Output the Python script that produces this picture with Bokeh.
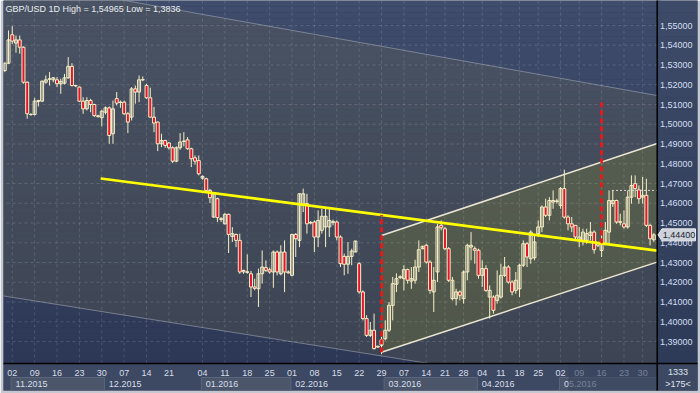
import numpy as np
from bokeh.plotting import figure
from bokeh.models import Range1d
from bokeh.core.properties import value
from bokeh.embed import file_html
from bokeh.resources import INLINE

# ---------------- data ----------------
TITLE = "GBP/USD 1D High = 1,54965 Low = 1,3836"
TOTAL_BARS = "1333"

open_ = [1.5272, 1.5309, 1.5453, 1.5411, 1.5427, 1.5390, 1.5213, 1.5050, 1.5050, 1.5115,
         1.5117, 1.5213, 1.5228, 1.5225, 1.5225, 1.5205, 1.5208, 1.5235, 1.5293, 1.5196,
         1.5188, 1.5117, 1.5078, 1.5120, 1.5100, 1.5043, 1.5033, 1.5061, 1.5083, 1.4952,
         1.5130, 1.5112, 1.5112, 1.5053, 1.5036, 1.5179, 1.5163, 1.5226, 1.5196, 1.5134,
         1.5036, 1.5011, 1.4901, 1.4918, 1.4905, 1.4881, 1.4813, 1.4881, 1.4913, 1.4921,
         1.4876, 1.4830, 1.4816, 1.4727, 1.4724, 1.4665, 1.4530, 1.4623, 1.4522, 1.4496,
         1.4544, 1.4432, 1.4442, 1.4412, 1.4260, 1.4253, 1.4243, 1.4176, 1.4167, 1.4243,
         1.4274, 1.4263, 1.4252, 1.4353, 1.4243, 1.4353, 1.4252, 1.4235, 1.4442, 1.4412,
         1.4589, 1.4598, 1.4503, 1.4505, 1.4429, 1.4463, 1.4480, 1.4480, 1.4503, 1.4505,
         1.4429, 1.4331, 1.4291, 1.4331, 1.4353, 1.4294, 1.4151, 1.4016, 1.3931, 1.3957,
         1.3876, 1.3881, 1.3914, 1.3957, 1.4083, 1.4190, 1.4223, 1.4218, 1.4264, 1.4206,
         1.4210, 1.4277, 1.4370, 1.4387, 1.4302, 1.4151, 1.4252, 1.4488, 1.4471, 1.4370,
         1.4117, 1.4117, 1.4151, 1.4117, 1.4252, 1.4378, 1.4370, 1.4362, 1.4235, 1.4269,
         1.4125, 1.4125, 1.4108, 1.4125, 1.4235, 1.4277, 1.4201, 1.4159, 1.4167, 1.4286,
         1.4395, 1.4319, 1.4324, 1.4446, 1.4480, 1.4581, 1.4539, 1.4606, 1.4609, 1.4589,
         1.4674, 1.4530, 1.4496, 1.4488, 1.4412, 1.4412, 1.4412, 1.4437, 1.4454, 1.4395,
         1.4361, 1.4395, 1.4454, 1.4598, 1.4614, 1.4507, 1.4496, 1.4480, 1.4631, 1.4699,
         1.4668, 1.4631, 1.4640, 1.4488, 1.4415]

high = [1.5314, 1.5475, 1.54965, 1.5449, 1.5449, 1.5394, 1.5216, 1.5056, 1.5134, 1.5124,
        1.5222, 1.5247, 1.5264, 1.5239, 1.5239, 1.5230, 1.5255, 1.5340, 1.5309, 1.5200,
        1.5191, 1.5137, 1.5137, 1.5129, 1.5104, 1.5048, 1.5073, 1.5090, 1.5090, 1.5120,
        1.5163, 1.5120, 1.5120, 1.5061, 1.5188, 1.5196, 1.5247, 1.5242, 1.5205, 1.5185,
        1.5087, 1.5014, 1.4952, 1.4921, 1.4910, 1.4888, 1.4888, 1.4955, 1.4960, 1.4935,
        1.4881, 1.4842, 1.4842, 1.4741, 1.4729, 1.4673, 1.4651, 1.4628, 1.4530, 1.4550,
        1.4547, 1.4479, 1.4446, 1.4446, 1.4263, 1.4341, 1.4257, 1.4218, 1.4269, 1.4361,
        1.4311, 1.4274, 1.4361, 1.4361, 1.4387, 1.4412, 1.4260, 1.4446, 1.4449, 1.4651,
        1.4674, 1.4648, 1.4510, 1.4513, 1.4564, 1.4572, 1.4572, 1.4572, 1.4517, 1.4513,
        1.4437, 1.4345, 1.4404, 1.4370, 1.4409, 1.4302, 1.4159, 1.4033, 1.3999, 1.4041,
        1.3879, 1.3923, 1.4007, 1.4100, 1.4227, 1.4245, 1.4235, 1.4286, 1.4269, 1.4277,
        1.4314, 1.4412, 1.4385, 1.4395, 1.4311, 1.4277, 1.4496, 1.4513, 1.4480, 1.4378,
        1.4227, 1.4167, 1.4159, 1.4260, 1.4395, 1.4454, 1.4382, 1.4370, 1.4311, 1.4286,
        1.4184, 1.4134, 1.4260, 1.4294, 1.4328, 1.4286, 1.4210, 1.4252, 1.4294, 1.4412,
        1.4404, 1.4463, 1.4437, 1.4513, 1.4589, 1.4623, 1.4631, 1.4665, 1.4623, 1.4682,
        1.4770, 1.4539, 1.4530, 1.4488, 1.4480, 1.4471, 1.4471, 1.4505, 1.4463, 1.4404,
        1.4437, 1.4505, 1.4665, 1.4665, 1.4618, 1.4547, 1.4564, 1.4665, 1.4741, 1.4741,
        1.4690, 1.4733, 1.4724, 1.4496, 1.4449]

low = [1.5264, 1.5306, 1.5407, 1.5362, 1.5357, 1.5205, 1.5028, 1.5043, 1.5044, 1.5090,
       1.5112, 1.5205, 1.5196, 1.5213, 1.5188, 1.5154, 1.5201, 1.5230, 1.5191, 1.5188,
       1.5112, 1.5053, 1.5070, 1.5061, 1.5036, 1.5033, 1.4989, 1.5050, 1.4901, 1.4901,
       1.5095, 1.5083, 1.5048, 1.4955, 1.5019, 1.5104, 1.5112, 1.5218, 1.5129, 1.5033,
       1.4960, 1.4864, 1.4884, 1.4881, 1.4871, 1.4803, 1.4808, 1.4871, 1.4888, 1.4871,
       1.4783, 1.4796, 1.4741, 1.4719, 1.4657, 1.4601, 1.4527, 1.4505, 1.4505, 1.4493,
       1.4348, 1.4404, 1.4378, 1.4243, 1.4243, 1.4243, 1.4125, 1.4159, 1.4075, 1.4193,
       1.4252, 1.4243, 1.4172, 1.4235, 1.4235, 1.4150, 1.4243, 1.4230, 1.4328, 1.4378,
       1.4555, 1.4446, 1.4493, 1.4353, 1.4378, 1.4446, 1.4378, 1.4429, 1.4488, 1.4412,
       1.4277, 1.4235, 1.4243, 1.4286, 1.4353, 1.4142, 1.4007, 1.3923, 1.3923, 1.3859,
       1.3867, 1.3836, 1.3906, 1.3948, 1.4007, 1.4150, 1.4216, 1.4159, 1.4193, 1.4167,
       1.4193, 1.4252, 1.4367, 1.4294, 1.4142, 1.4049, 1.4201, 1.4463, 1.4362, 1.4201,
       1.4108, 1.4083, 1.4108, 1.4092, 1.4210, 1.4311, 1.4294, 1.4218, 1.4176, 1.4151,
       1.4016, 1.4041, 1.4092, 1.4117, 1.4227, 1.4193, 1.4134, 1.4142, 1.4125, 1.4277,
       1.4277, 1.4294, 1.4311, 1.4429, 1.4454, 1.4530, 1.4513, 1.4572, 1.4598, 1.4572,
       1.4522, 1.4463, 1.4454, 1.4412, 1.4378, 1.4387, 1.4395, 1.4412, 1.4345, 1.4378,
       1.4328, 1.4387, 1.4395, 1.4581, 1.4496, 1.4488, 1.4471, 1.4471, 1.4598, 1.4631,
       1.4598, 1.4598, 1.4480, 1.4387, 1.4404]

close = [1.5309, 1.5427, 1.5421, 1.5427, 1.5390, 1.5213, 1.5053, 1.5049, 1.5117, 1.5120,
         1.5218, 1.5225, 1.5230, 1.5235, 1.5205, 1.5217, 1.5235, 1.5293, 1.5196, 1.5194,
         1.5117, 1.5078, 1.5120, 1.5100, 1.5044, 1.5039, 1.5066, 1.5083, 1.4943, 1.5078,
         1.5107, 1.5110, 1.5053, 1.5011, 1.5179, 1.5163, 1.5225, 1.5225, 1.5134, 1.5036,
         1.5006, 1.4901, 1.4918, 1.4893, 1.4881, 1.4813, 1.4881, 1.4910, 1.4915, 1.4876,
         1.4825, 1.4813, 1.4749, 1.4736, 1.4665, 1.4628, 1.4648, 1.4527, 1.4518, 1.4544,
         1.4442, 1.4446, 1.4412, 1.4252, 1.4253, 1.4250, 1.4176, 1.4169, 1.4243, 1.4277,
         1.4260, 1.4252, 1.4353, 1.4252, 1.4353, 1.4252, 1.4248, 1.4442, 1.4420, 1.4648,
         1.4648, 1.4496, 1.4500, 1.4429, 1.4513, 1.4534, 1.4534, 1.4513, 1.4507, 1.4429,
         1.4294, 1.4291, 1.4331, 1.4358, 1.4409, 1.4151, 1.4016, 1.3931, 1.3957, 1.3864,
         1.3872, 1.3909, 1.3957, 1.4083, 1.4193, 1.4218, 1.4228, 1.4264, 1.4210, 1.4218,
         1.4277, 1.4365, 1.4382, 1.4302, 1.4159, 1.4210, 1.4480, 1.4476, 1.4370, 1.4210,
         1.4210, 1.4151, 1.4134, 1.4252, 1.4387, 1.4387, 1.4362, 1.4235, 1.4269, 1.4159,
         1.4159, 1.4058, 1.4134, 1.4235, 1.4277, 1.4201, 1.4151, 1.4210, 1.4286, 1.4395,
         1.4328, 1.4454, 1.4404, 1.4480, 1.4581, 1.4539, 1.4614, 1.4614, 1.4612, 1.4674,
         1.4530, 1.4496, 1.4480, 1.4429, 1.4429, 1.4454, 1.4446, 1.4454, 1.4365, 1.4387,
         1.4395, 1.4463, 1.4614, 1.4614, 1.4505, 1.4503, 1.4480, 1.4631, 1.4690, 1.4674,
         1.4623, 1.4640, 1.4488, 1.4420, 1.4440]

# weekly date ticks (bar index of the labelled day) and their labels
day_tick_idx = [2, 8, 14, 20, 26, 32, 38, 44, 53, 59, 65, 71, 77, 83, 89, 95, 101, 107,
                113, 118, 123, 128, 133, 138, 143, 149, 154, 160, 166, 171]
day_tick_lab = ["02", "09", "16", "23", "30", "07", "14", "21", "04", "11", "18", "25",
                "01", "08", "15", "22", "29", "07", "14", "21", "28", "04", "11", "18",
                "25", "02", "09", "16", "23", "30"]
month_start_idx = [2, 27, 53, 77, 102, 127, 149]
month_lab = ["11.2015", "12.2015", "01.2016", "02.2016", "03.2016", "04.2016", "05.2016"]
price_levels = [1.39, 1.40, 1.41, 1.42, 1.43, 1.44, 1.45, 1.46, 1.47, 1.48, 1.49,
                1.50, 1.51, 1.52, 1.53, 1.54, 1.55]

# drawing tools on the chart (bar index, price)
chan_x = [-1.15, 174.7]
chan_upper = [1.5739, 1.5146]
chan_lower = [1.4133, 1.3606]
green_x = [101.0, 174.7]
green_upper = [1.4437, 1.4901]
green_lower = [1.3846, 1.4301]
yellow_x = [25.7, 174.9]
yellow_y = [1.4725, 1.4360]
proj_x = [101.0, 160.0]
proj_top = [1.4541, 1.5110]
proj_bottom = [1.3846, 1.4397]
level_x = [162.8, 174.9]
level_y = [1.4665, 1.4665]

# ---------------- layout helpers (pixel -> data) ----------------
def xv(px):
    return (px - 4.3) / 3.73

def yv(py):
    return 1.55 - (py - 25) / 1975.0

def line_at(xs, ys, x):
    s = (ys[1] - ys[0]) / (xs[1] - xs[0])
    return ys[0] + s * (np.asarray(x, dtype=float) - xs[0])

FONT = value("Liberation Sans")
idx = np.arange(len(close))
o = np.array(open_); h = np.array(high); l = np.array(low); c = np.array(close)

CH_L, CH_R = xv(0), xv(656.7)
CH_T, CH_B = yv(0), yv(363)
FR_R, FR_B = xv(697), yv(390)

p = figure(width=700, height=393, output_backend="svg", toolbar_location=None,
           x_range=Range1d(xv(3), xv(697)), y_range=Range1d(yv(390), yv(0)),
           x_axis_location=None, y_axis_location=None,
           min_border_left=3, min_border_right=3, min_border_top=0, min_border_bottom=3,
           border_fill_color="#c3c7cf", background_fill_color="#2e3957",
           outline_line_color=None)
p.xgrid.visible = False
p.ygrid.visible = False

# background gradient (blue)
N = 60
edges = np.linspace(CH_B, CH_T, N + 1)
top_rgb = np.array([63, 76, 108]); bot_rgb = np.array([45, 56, 86])
cols = []
for k in range(N):
    t = (k + 0.5) / N
    rgb = bot_rgb + (top_rgb - bot_rgb) * t
    cols.append("#%02x%02x%02x" % tuple(int(round(v)) for v in rgb))
p.quad(left=CH_L - 1, right=CH_R + 1, bottom=edges[:-1], top=edges[1:],
       fill_color=cols, line_color=None)

# big regression channel
cx = np.array([CH_L - 2, CH_R + 2])
p.patch(np.r_[cx, cx[::-1]],
        np.r_[line_at(chan_x, chan_upper, cx), line_at(chan_x, chan_lower, cx[::-1])],
        fill_color="#646450", fill_alpha=0.3, line_color=None)

# green channel
gx = np.array([green_x[0], CH_R + 2])
p.patch(np.r_[gx, gx[::-1]],
        np.r_[line_at(green_x, green_upper, gx), line_at(green_x, green_lower, gx[::-1])],
        fill_color="#777d36", fill_alpha=0.33, line_color=None)

# grid
p.segment(x0=CH_L, x1=CH_R, y0=price_levels, y1=price_levels,
          line_color="white", line_alpha=0.14, line_dash="3 3", line_width=1)
p.segment(x0=day_tick_idx, x1=day_tick_idx, y0=CH_B, y1=CH_T,
          line_color="white", line_alpha=0.14, line_dash="3 3", line_width=1)

# channel lines
p.line(cx, line_at(chan_x, chan_upper, cx), line_color="#a9b0bc", line_alpha=0.55, line_width=1)
p.line(cx, line_at(chan_x, chan_lower, cx), line_color="#a9b0bc", line_alpha=0.55, line_width=1)
p.line(gx, line_at(green_x, green_upper, gx), line_color="#ece7d2", line_width=1.5)
p.line(gx, line_at(green_x, green_lower, gx), line_color="#ece7d2", line_width=1.5)

# candles
CREAM = "#f6efc6"
up = c >= o
dn = ~up
p.segment(x0=idx, x1=idx, y0=l, y1=h, line_color=CREAM, line_width=1)
p.vbar(x=idx[up], width=0.8, top=c[up], bottom=o[up], fill_color=None,
       line_color=CREAM, line_width=1)
p.vbar(x=idx[dn], width=0.8, top=o[dn], bottom=c[dn], fill_color="#e5132c",
       line_color=CREAM, line_width=1)

# yellow trend line
p.line(yellow_x, yellow_y, line_color="#ffff00", line_width=2.6)

# red projection lines
p.segment(x0=proj_x, x1=proj_x, y0=proj_bottom, y1=proj_top,
          line_color="#ff1010", line_width=2.5, line_dash="5 3")

# dotted level
p.line(level_x, level_y, line_color="#d8d8d8", line_width=1, line_dash="2 2")

# title
p.text(x=[xv(5)], y=[yv(8.5)], text=[TITLE], text_font=FONT, text_font_size="9px",
       text_color="#e8edf3", text_baseline="middle", text_align="left")

# ---------------- bottom date band ----------------
p.quad(left=CH_L - 1, right=FR_R + 1, bottom=FR_B - 0.001, top=CH_B,
       fill_color="#3d4862", line_color=None)
ms = np.array(month_start_idx, dtype=float) - 0.3
me = np.r_[ms[1:], CH_R]
shade = np.arange(len(ms)) % 2 == 0
p.quad(left=ms[shade], right=me[shade], bottom=yv(390), top=yv(377),
       fill_color="#4b566a", line_color="#5a667c", line_width=1)
p.text(x=day_tick_idx, y=yv(372), text=day_tick_lab, text_font=FONT,
       text_font_size="9px", text_color="#d6deea", text_align="center",
       text_baseline="middle")
p.text(x=list(np.array(month_start_idx) + 0.9), y=yv(383.8), text=month_lab,
       text_font=FONT, text_font_size="9px", text_color="#d6deea",
       text_align="left", text_baseline="middle")
# dimmed (scroll) area
p.quad(left=xv(568), right=CH_R, bottom=yv(390), top=CH_B,
       fill_color="#394560", fill_alpha=0.62, line_color=None)

# ---------------- right price panel ----------------
pe = np.linspace(CH_B, CH_T, 31)
pcols = []
for k in range(30):
    t = (k + 0.5) / 30
    rgb = np.array([46, 59, 88]) + (np.array([62, 75, 104]) - np.array([46, 59, 88])) * t
    pcols.append("#%02x%02x%02x" % tuple(int(round(v)) for v in rgb))
p.quad(left=CH_R, right=FR_R + 1, bottom=pe[:-1], top=pe[1:], fill_color=pcols,
       line_color=None)
p.quad(left=CH_R, right=FR_R + 1, bottom=FR_B - 0.001, top=CH_B,
       fill_color="#3d4862", line_color=None)

p.text(x=xv(659.5), y=price_levels,
       text=[("%.5f" % v).replace(".", ",") for v in price_levels],
       text_font=FONT, text_font_size="9px", text_color="#d3dff0",
       text_align="left", text_baseline="middle")

# separators
p.segment(x0=[CH_L - 1, CH_R], x1=[FR_R + 1, CH_R], y0=[CH_B, FR_B - 0.001],
          y1=[CH_B, CH_T + 0.001], line_color="black", line_width=1.5)

# last price marker
last = c[-1]
hh = 6 / 1975.0
p.patch([xv(657.5), xv(661.5), xv(695), xv(695), xv(661.5)],
        [last, last + hh, last + hh, last - hh, last - hh],
        fill_color="#cdd1d9", line_color="#e8ebf0", line_width=1)
p.text(x=[xv(678.5)], y=[last], text=[("%.5f" % last).replace(".", ",")],
       text_font=FONT, text_font_size="9px", text_color="#1b2330",
       text_align="center", text_baseline="middle")

# corner info
p.text(x=[xv(677.5), xv(677.5)], y=[yv(371), yv(383.5)],
       text=[TOTAL_BARS, ">%d<" % len(close)], text_font=FONT, text_font_size="9px",
       text_color="#dde4f0", text_align="center", text_baseline="middle")

open("out.html", "w").write(file_html(p, INLINE))
